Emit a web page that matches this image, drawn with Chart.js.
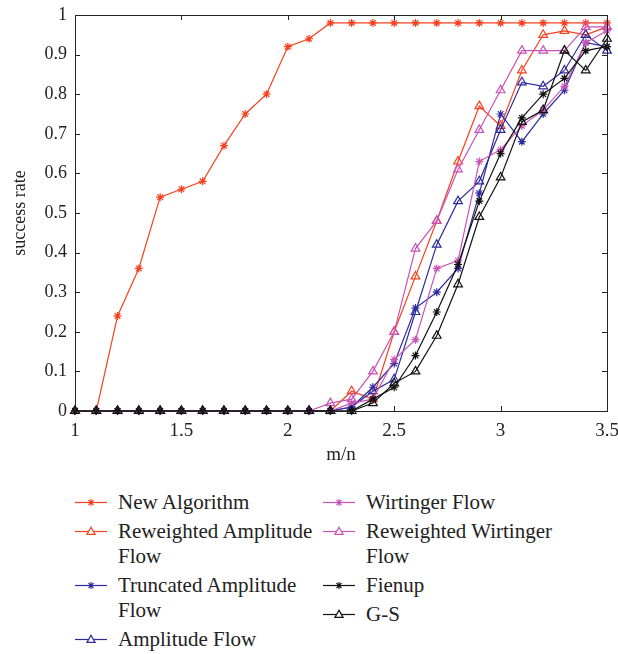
<!DOCTYPE html>
<html>
<head>
<meta charset="utf-8">
<script src="https://cdn.jsdelivr.net/npm/chart.js@4.4.1/dist/chart.umd.min.js"></script>
<style>
  body { margin: 0; background: #fff; width: 618px; height: 654px; position: relative; overflow: hidden; }
  #chart { position: absolute; left: 0; top: 0; }
  .legcol { position: absolute; top: 490px; font-family: "Liberation Serif", serif; font-size: 21px; color: #222; }
  .item { display: flex; align-items: flex-start; margin-bottom: 4px; line-height: 25px; }
  .item svg { flex: none; margin-right: 11px; }
  .item span { width: 205px; }
</style>
</head>
<body>
<canvas id="chart" width="618" height="470"></canvas>
<div class="legcol" id="legLeft" style="left:75px"></div>
<div class="legcol" id="legRight" style="left:323px"></div>
<script>
// m/n values on the x axis
var mn = [1.0, 1.1, 1.2, 1.3, 1.4, 1.5, 1.6, 1.7, 1.8, 1.9, 2.0, 2.1, 2.2,
          2.3, 2.4, 2.5, 2.6, 2.7, 2.8, 2.9, 3.0, 3.1, 3.2, 3.3, 3.4, 3.5];

// success rate of each algorithm
var newAlgorithm = [0, 0, 0.24, 0.36, 0.54, 0.56, 0.58, 0.67, 0.75, 0.80, 0.92, 0.94, 0.98,
                    0.98, 0.98, 0.98, 0.98, 0.98, 0.98, 0.98, 0.98, 0.98, 0.98, 0.98, 0.98, 0.98];
var reweightedAF = [0, 0, 0, 0, 0, 0, 0, 0, 0, 0, 0, 0, 0,
                    0.05, 0.03, 0.20, 0.34, 0.48, 0.63, 0.77, 0.72, 0.86, 0.95, 0.96, 0.95, 0.97];
var truncatedAF  = [0, 0, 0, 0, 0, 0, 0, 0, 0, 0, 0, 0, 0,
                    0.01, 0.06, 0.12, 0.26, 0.30, 0.36, 0.55, 0.75, 0.68, 0.75, 0.81, 0.93, 0.92];
var amplitudeFlow = [0, 0, 0, 0, 0, 0, 0, 0, 0, 0, 0, 0, 0,
                    0.01, 0.05, 0.08, 0.25, 0.42, 0.53, 0.58, 0.71, 0.83, 0.82, 0.86, 0.95, 0.91];
var wirtingerFlow = [0, 0, 0, 0, 0, 0, 0, 0, 0, 0, 0, 0, 0,
                    0.02, 0.03, 0.13, 0.18, 0.36, 0.38, 0.63, 0.66, 0.72, 0.76, 0.82, 0.93, 0.96];
var reweightedWF = [0, 0, 0, 0, 0, 0, 0, 0, 0, 0, 0, 0, 0.02,
                    0.03, 0.10, 0.20, 0.41, 0.48, 0.61, 0.71, 0.81, 0.91, 0.91, 0.91, 0.97, 0.97];
var fienup       = [0, 0, 0, 0, 0, 0, 0, 0, 0, 0, 0, 0, 0,
                    0, 0.03, 0.06, 0.14, 0.25, 0.37, 0.53, 0.65, 0.74, 0.80, 0.84, 0.91, 0.92];
var gs           = [0, 0, 0, 0, 0, 0, 0, 0, 0, 0, 0, 0, 0,
                    0, 0.02, 0.07, 0.10, 0.19, 0.32, 0.49, 0.59, 0.73, 0.76, 0.91, 0.86, 0.94];

var xTicks = [1, 1.5, 2, 2.5, 3, 3.5];

var RED = '#f7401f', BLUE = '#2f2a9e', PINK = '#c853b6', BLACK = '#111111';
var FONT = '"Liberation Serif", serif';

function series(label, values, color, style, i) {
  return {
    label: label,
    data: values.map(function (v, k) { return { x: mn[k], y: v }; }),
    borderColor: color,
    backgroundColor: color,
    borderWidth: 1.2,
    pointStyle: style,
    pointRadius: style === 'star' ? 4 : 5,
    pointBorderWidth: 1.2,
    pointBorderColor: color,
    pointBackgroundColor: style === 'star' ? color : 'rgba(255,255,255,0)',
    tension: 0,
    clip: false,
    order: 7 - i
  };
}

var datasets = [
  series('New Algorithm', newAlgorithm, RED, 'star', 0),
  series('Reweighted Amplitude Flow', reweightedAF, RED, 'triangle', 1),
  series('Truncated Amplitude Flow', truncatedAF, BLUE, 'star', 2),
  series('Amplitude Flow', amplitudeFlow, BLUE, 'triangle', 3),
  series('Wirtinger Flow', wirtingerFlow, PINK, 'star', 4),
  series('Reweighted Wirtinger Flow', reweightedWF, PINK, 'triangle', 5),
  series('Fienup', fienup, BLACK, 'star', 6),
  series('G-S', gs, BLACK, 'triangle', 7)
];

// box around the plot with inward ticks on all four sides
var frame = {
  id: 'frame',
  afterDraw: function (chart) {
    var a = chart.chartArea, ctx = chart.ctx;
    var xs = chart.scales.x, ys = chart.scales.y;
    ctx.save();
    ctx.strokeStyle = '#222';
    ctx.lineWidth = 1;
    ctx.strokeRect(a.left + 0.5, a.top + 0.5, a.right - a.left, a.bottom - a.top);
    ctx.beginPath();
    xs.ticks.forEach(function (t) {
      var px = Math.round(xs.getPixelForValue(t.value)) + 0.5;
      ctx.moveTo(px, a.bottom); ctx.lineTo(px, a.bottom - 5);
      ctx.moveTo(px, a.top); ctx.lineTo(px, a.top + 5);
    });
    ys.ticks.forEach(function (t) {
      var py = Math.round(ys.getPixelForValue(t.value)) + 0.5;
      ctx.moveTo(a.left, py); ctx.lineTo(a.left + 5, py);
      ctx.moveTo(a.right, py); ctx.lineTo(a.right - 5, py);
    });
    ctx.stroke();
    ctx.restore();
  }
};

var chart = new Chart(document.getElementById('chart'), {
  type: 'line',
  data: { datasets: datasets },
  plugins: [frame],
  options: {
    responsive: false,
    animation: false,
    layout: { padding: { left: 0, right: 11, top: 15, bottom: 0 } },
    plugins: { legend: { display: false }, tooltip: { enabled: false } },
    scales: {
      x: {
        type: 'linear',
        min: 1, max: 3.5,
        grid: { display: false, drawTicks: false },
        border: { display: false },
        afterBuildTicks: function (s) { s.ticks = xTicks.map(function (v) { return { value: v }; }); },
        afterFit: function (s) { s.height = 59; s.paddingLeft = 0; s.paddingRight = 0; },
        ticks: {
          padding: 9, color: '#222', font: { family: FONT, size: 19 },
          callback: function (v) { return String(v); }
        },
        title: { display: true, text: 'm/n', color: '#222', font: { family: FONT, size: 19 }, padding: { top: 5 } }
      },
      y: {
        min: 0, max: 1,
        grid: { display: false, drawTicks: false },
        border: { display: false },
        afterFit: function (s) { s.width = 75; s.paddingTop = 0; s.paddingBottom = 0; },
        ticks: {
          stepSize: 0.1, padding: 8, color: '#222', font: { family: FONT, size: 18 },
          callback: function (v) { return String(Math.round(v * 10) / 10); }
        },
        title: { display: true, text: 'success rate', color: '#222', font: { family: FONT, size: 18 }, padding: { top: 9, bottom: 0 } }
      }
    }
  }
});

// legend in two columns, built from the datasets
function sample(ds) {
  var c = ds.borderColor, mark;
  if (ds.pointStyle === 'star') {
    mark = '<path d="M16 9v7M12.5 12.5h7M13.5 10l5 5M18.5 10l-5 5" stroke="' + c + '" stroke-width="1.1"/>';
  } else {
    mark = '<polygon points="16,8.3 20,15.3 12,15.3" fill="#fff" stroke="' + c + '" stroke-width="1.3"/>';
  }
  return '<svg width="32" height="25"><line x1="0" y1="12.5" x2="32" y2="12.5" stroke="' + c +
         '" stroke-width="1.2"/>' + mark + '</svg>';
}
chart.data.datasets.forEach(function (ds, i) {
  var el = document.createElement('div');
  el.className = 'item';
  el.innerHTML = sample(ds) + '<span>' + ds.label + '</span>';
  document.getElementById(i < 4 ? 'legLeft' : 'legRight').appendChild(el);
});
</script>
</body>
</html>
